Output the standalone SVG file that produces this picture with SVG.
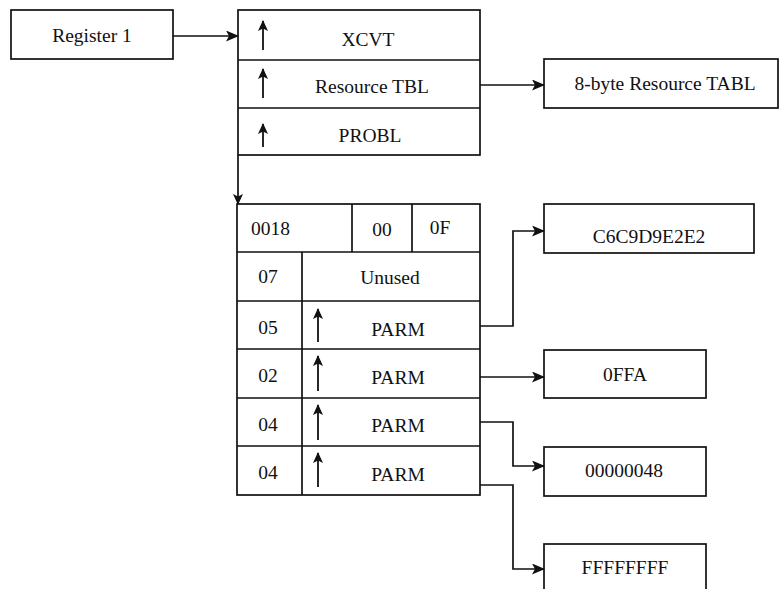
<svg xmlns="http://www.w3.org/2000/svg" width="780" height="589" viewBox="0 0 780 589">
<defs>
<marker id="ah" markerWidth="13" markerHeight="11" refX="12" refY="5.5" orient="auto" markerUnits="userSpaceOnUse">
<path d="M0,0 L13,5.5 L0,11 L3,5.5 Z" fill="#111"/>
</marker>
<marker id="ahs" markerWidth="11" markerHeight="10" refX="10" refY="5" orient="auto" markerUnits="userSpaceOnUse">
<path d="M0,0 L11,5 L0,10 L2.5,5 Z" fill="#111"/>
</marker>
</defs>
<style>
rect{fill:#fff;stroke:#111;stroke-width:1.7}
line.d{stroke:#111;stroke-width:1.7}
text{font-family:"Liberation Serif","Times New Roman",serif;font-size:19.5px;fill:#111}
.c{text-anchor:middle}
.conn path,.conn line{fill:none;stroke:#111;stroke-width:1.7}
.up{stroke:#111;stroke-width:1.8;marker-end:url(#ahs)}
</style>
<rect width="780" height="589" style="fill:#fff;stroke:none"/>

<g id="register1">
<rect x="11" y="10" width="162" height="49"/>
<text x="92" y="42" class="c">Register 1</text>
</g>

<g id="top-block">
<rect x="238" y="10" width="242" height="145"/>
<line class="d" x1="238" y1="60" x2="480" y2="60"/>
<line class="d" x1="238" y1="108" x2="480" y2="108"/>
<line class="up" x1="263" y1="50" x2="263" y2="21"/>
<line class="up" x1="263" y1="98" x2="263" y2="69"/>
<line class="up" x1="263" y1="147" x2="263" y2="124"/>
<text x="368" y="46" class="c">XCVT</text>
<text x="372" y="93" class="c">Resource TBL</text>
<text x="370" y="142" class="c">PROBL</text>
</g>

<g id="resource-tabl">
<rect x="544" y="59" width="234" height="49"/>
<text x="665" y="90" class="c">8-byte Resource TABL</text>
</g>

<g id="parm-list">
<rect x="237" y="204" width="243" height="291"/>
<line class="d" x1="237" y1="252" x2="480" y2="252"/>
<line class="d" x1="237" y1="301" x2="480" y2="301"/>
<line class="d" x1="237" y1="349" x2="480" y2="349"/>
<line class="d" x1="237" y1="398" x2="480" y2="398"/>
<line class="d" x1="237" y1="446" x2="480" y2="446"/>
<line class="d" x1="352" y1="204" x2="352" y2="252"/>
<line class="d" x1="412" y1="204" x2="412" y2="252"/>
<line class="d" x1="302" y1="252" x2="302" y2="495"/>
<text x="251" y="235">0018</text>
<text x="382" y="236" class="c">00</text>
<text x="440" y="234" class="c">0F</text>
<text x="268" y="283" class="c">07</text>
<text x="390" y="284" class="c">Unused</text>
<text x="268" y="334" class="c">05</text>
<text x="398" y="336" class="c">PARM</text>
<text x="268" y="382" class="c">02</text>
<text x="398" y="384" class="c">PARM</text>
<text x="268" y="431" class="c">04</text>
<text x="398" y="432" class="c">PARM</text>
<text x="268" y="479" class="c">04</text>
<text x="398" y="481" class="c">PARM</text>
<line class="up" x1="318" y1="342" x2="318" y2="309"/>
<line class="up" x1="318" y1="391" x2="318" y2="356"/>
<line class="up" x1="318" y1="440" x2="318" y2="405"/>
<line class="up" x1="318" y1="487" x2="318" y2="453"/>
</g>

<g id="c6c9">
<rect x="544" y="204" width="210" height="49"/>
<text x="649" y="243" class="c">C6C9D9E2E2</text>
</g>

<g id="offa">
<rect x="544" y="350" width="162" height="48"/>
<text x="625" y="381" class="c">0FFA</text>
</g>

<g id="v00000048">
<rect x="544" y="447" width="162" height="49"/>
<text x="624" y="477" class="c">00000048</text>
</g>

<g id="vffffffff">
<rect x="544" y="544" width="162" height="60"/>
<text x="625" y="574" class="c">FFFFFFFF</text>
</g>

<g id="connectors" class="conn">
<line x1="173" y1="36" x2="238" y2="36" marker-end="url(#ah)"/>
<line x1="480" y1="85" x2="544" y2="85" marker-end="url(#ah)"/>
<line x1="238" y1="155" x2="238" y2="204" marker-end="url(#ahs)"/>
<path d="M480,326 H513 V231 H544" marker-end="url(#ah)"/>
<line x1="480" y1="377" x2="544" y2="377" marker-end="url(#ah)"/>
<path d="M480,422 H513 V466 H544" marker-end="url(#ah)"/>
<path d="M480,485 H513 V569 H544" marker-end="url(#ah)"/>
</g>
</svg>
